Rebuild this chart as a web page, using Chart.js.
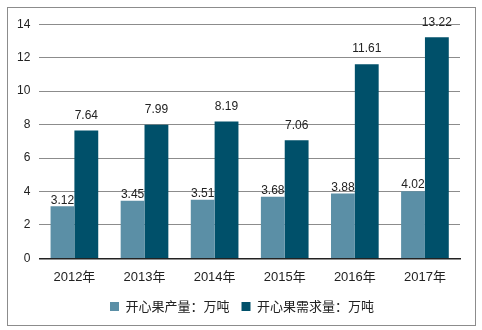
<!DOCTYPE html>
<html><head><meta charset="utf-8">
<script src="https://cdn.jsdelivr.net/npm/chart.js@4/dist/chart.umd.min.js"></script>
<style>
body{margin:0;background:#fff;}
#box{position:absolute;left:7px;top:7px;width:467px;height:317px;border:1px solid #8c8c8c;background:#fff;}
</style></head><body>
<div id="box"><canvas id="c" width="467" height="317"></canvas></div>
<script>
const categories=["2012年","2013年","2014年","2015年","2016年","2017年"];
const production=[3.12,3.45,3.51,3.68,3.88,4.02];
const demand=[7.64,7.99,8.19,7.06,11.61,13.22];
const seriesNames=["开心果产量：万吨","开心果需求量：万吨"];
const yTicks=[0,2,4,6,8,10,12,14];
const FONT="'Liberation Sans','Noto Sans CJK SC',Arial,sans-serif";
const labelPlugin={id:'lbl',
  afterLayout(chart){const lg=chart.legend;if(lg){lg.left+=8;lg.right+=8;}},
  afterDatasetsDraw(chart){
  const ctx=chart.ctx;ctx.save();
  ctx.font="12px "+FONT;ctx.fillStyle="#222";ctx.textAlign="center";ctx.textBaseline="bottom";
  chart.data.datasets.forEach((ds,i)=>{
    const meta=chart.getDatasetMeta(i);
    meta.data.forEach((el,j)=>{
      const off=i===0?-4:5;
      ctx.fillText(ds.data[j].toFixed(2),el.x,el.y-off-4);
    });
  });
  ctx.restore();
}};
new Chart(document.getElementById('c'),{
  type:'bar',
  data:{labels:categories,datasets:[
    {label:seriesNames[0],data:production,backgroundColor:'#5b8fa6',categoryPercentage:0.68,barPercentage:1},
    {label:seriesNames[1],data:demand,backgroundColor:'#00506a',categoryPercentage:0.68,barPercentage:1}
  ]},
  options:{responsive:false,animation:false,
    layout:{padding:{left:0,right:15,top:6,bottom:2}},
    plugins:{tooltip:{enabled:false},
      legend:{position:'bottom',labels:{boxWidth:9,boxHeight:9,font:{size:13,family:"'Noto Sans CJK SC','Liberation Sans',sans-serif"},color:'#222',padding:12}}},
    scales:{
      x:{grid:{display:false},border:{color:'#222',width:1.5},ticks:{font:{size:13,family:FONT},color:'#222',padding:3}},
      y:{min:0,max:14,afterBuildTicks(ax){ax.ticks=yTicks.map(v=>({value:v}));},
        grid:{color:'#8c8c8c',drawTicks:false},border:{display:false},
        ticks:{font:{size:12,family:FONT},color:'#222',padding:9}}
    }
  },
  plugins:[labelPlugin]
});
</script>
</body></html>
